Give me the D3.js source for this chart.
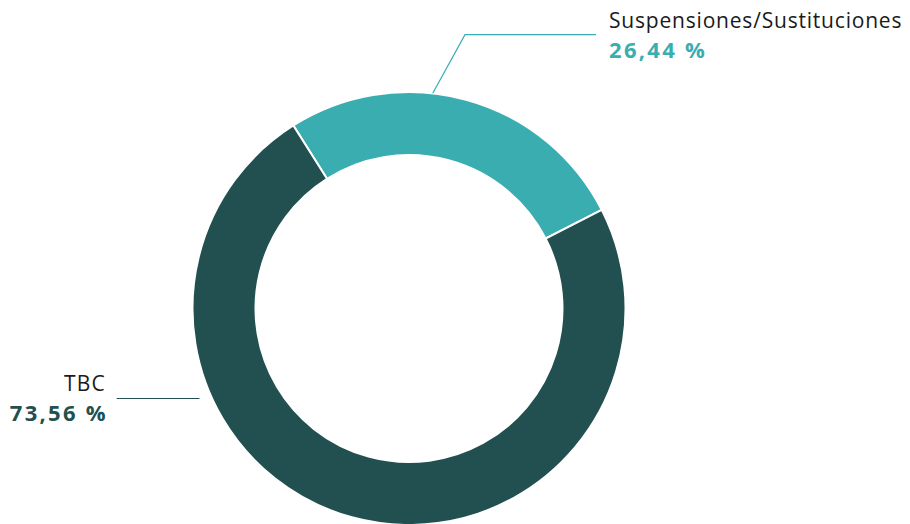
<!DOCTYPE html>
<html><head><meta charset="utf-8">
<script src="https://cdn.jsdelivr.net/npm/d3@7"></script>
<style>
html,body{margin:0;padding:0;background:#fff;}
svg{display:block;}
text{font-family:"Open Sans",sans-serif;}
</style></head>
<body>
<svg id="chart" width="910" height="524"></svg>
<script>
const categories = ["Suspensiones/Sustituciones", "TBC"];
const values = [26.44, 73.56];
const valueLabels = ["26,44 %", "73,56 %"];
const colors = ["#3aadb1", "#225050"];

const W = 910, H = 524;
const cx = 409, cy = 308.5, rOuter = 216.5, rInner = 153.5;
const startDeg = -32.3;

const svg = d3.select("#chart");
const g = svg.append("g").attr("transform", `translate(${cx},${cy})`);

const pie = d3.pie().sort(null).value(d => d)
  .startAngle(startDeg * Math.PI / 180)
  .endAngle(startDeg * Math.PI / 180 + 2 * Math.PI);
const arc = d3.arc().innerRadius(rInner).outerRadius(rOuter);
const arcs = pie(values);

g.selectAll("path.slice").data(arcs).enter().append("path")
  .attr("class", "slice")
  .attr("d", arc)
  .attr("fill", (d, i) => colors[i])
  .attr("stroke", "#fff")
  .attr("stroke-width", 2);

// Leader lines (absolute layout)
const polar = (deg, r) => [cx + r * Math.sin(deg * Math.PI / 180), cy - r * Math.cos(deg * Math.PI / 180)];
const p0 = polar(6.3, rOuter);
svg.append("polyline")
  .attr("points", [p0, [465, 34.7], [596, 34.7]].map(p => p.join(",")).join(" "))
  .attr("fill", "none").attr("stroke", colors[0]).attr("stroke-width", 1.2);

svg.append("line")
  .attr("x1", 116.7).attr("y1", 398.5).attr("x2", 199.5).attr("y2", 398.5)
  .attr("stroke", colors[1]).attr("stroke-width", 1.2);

// Labels
svg.append("text").attr("x", 609).attr("y", 28)
  .attr("font-size", 21).attr("letter-spacing", 0.8).attr("fill", "#1a1a1a").text(categories[0]);
svg.append("text").attr("x", 609).attr("y", 58)
  .attr("font-size", 22).attr("font-weight", 700).attr("letter-spacing", 2.3)
  .attr("fill", colors[0]).text(valueLabels[0]);

svg.append("text").attr("x", 106).attr("y", 391).attr("text-anchor", "end")
  .attr("font-size", 21).attr("letter-spacing", 1.2).attr("fill", "#1a1a1a").text(categories[1]);
svg.append("text").attr("x", 108).attr("y", 421).attr("text-anchor", "end")
  .attr("font-size", 22).attr("font-weight", 700).attr("letter-spacing", 2.3)
  .attr("fill", colors[1]).text(valueLabels[1]);
</script>
</body></html>
